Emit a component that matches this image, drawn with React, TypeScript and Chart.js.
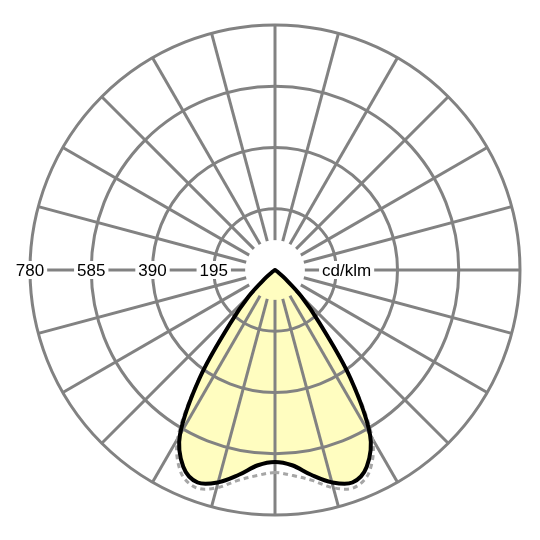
import React, { useRef, useEffect } from "react";
import { Chart, registerables } from "chart.js";

Chart.register(...registerables);

// gamma angle from nadir, degrees
const gammaAngles = [0, 5, 10, 15, 20, 25, 30, 35, 40, 45, 50, 55, 60, 65, 70, 75, 80, 85, 90];
// C0-C180 plane (solid), cd/klm
const c0c180 = [611, 624, 662, 700, 720, 691, 605, 415, 222, 118, 38, 10, 0, 0, 0, 0, 0, 0, 0];
// C90-C270 plane (dashed), cd/klm
const c90c270 = [645, 657, 680, 718, 737, 710, 620, 420, 222, 118, 38, 10, 0, 0, 0, 0, 0, 0, 0];

const ringValues = [195, 390, 585, 780];
const ringLabels = ["195", "390", "585", "780"];
const unitLabel = "cd/klm";
const unitValue = 228;
const holeValue = 95;
const spokeStep = 15;

const gridColor = "#828282";
const fillColor = "#fffdc0";

const directions = Array.from({ length: 72 }, (_, i) => i * 5);

const toRadar = (values: number[]) =>
  directions.map((d) => {
    const g = d <= 180 ? d : 360 - d;
    const k = gammaAngles.indexOf(g);
    return k >= 0 ? values[k] : 0;
  });

const polarGrid = {
  id: "polarGrid",
  afterDatasetDraw(chart: any, args: any) {
    if (args.index !== 2) return;
    const scale = chart.scales.r;
    const ctx = chart.ctx as CanvasRenderingContext2D;
    const cx = scale.xCenter;
    const cy = scale.yCenter;
    const hole = scale.getDistanceFromCenterForValue(holeValue);
    const outer = scale.getDistanceFromCenterForValue(scale.max);
    ctx.save();
    ctx.strokeStyle = gridColor;
    ctx.lineWidth = 3;
    ringValues.forEach((v) => {
      ctx.beginPath();
      ctx.arc(cx, cy, scale.getDistanceFromCenterForValue(v), 0, Math.PI * 2);
      ctx.stroke();
    });
    for (let a = 0; a < 360; a += spokeStep) {
      const t = (a * Math.PI) / 180;
      ctx.beginPath();
      ctx.moveTo(cx + hole * Math.sin(t), cy - hole * Math.cos(t));
      ctx.lineTo(cx + outer * Math.sin(t), cy - outer * Math.cos(t));
      ctx.stroke();
    }
    ctx.font = "17px 'Liberation Sans', Arial, sans-serif";
    ctx.textAlign = "center";
    ctx.textBaseline = "middle";
    const label = (text: string, x: number) => {
      const w = ctx.measureText(text).width;
      ctx.fillStyle = "#ffffff";
      ctx.fillRect(x - w / 2 - 3, cy - 9, w + 6, 18);
      ctx.fillStyle = "#000000";
      ctx.fillText(text, x, cy + 1);
    };
    ringValues.forEach((v, i) =>
      label(ringLabels[i], cx - scale.getDistanceFromCenterForValue(v))
    );
    label(unitLabel, cx + scale.getDistanceFromCenterForValue(unitValue));
    ctx.restore();
  },
};

const PolarChart: React.FC = () => {
  const canvasRef = useRef<HTMLCanvasElement>(null);

  useEffect(() => {
    if (!canvasRef.current) return;
    const ctx = canvasRef.current.getContext("2d");
    if (!ctx) return;

    const solid = toRadar(c0c180);
    const dashed = toRadar(c90c270);

    const chart = new Chart(ctx, {
      type: "radar",
      data: {
        labels: directions.map(String),
        datasets: [
          {
            data: solid,
            borderColor: "#000000",
            borderWidth: 4,
            fill: false,
            tension: 0.35,
            pointRadius: 0,
            borderJoinStyle: "round",
          },
          {
            data: dashed,
            borderColor: "#a6a6a6",
            borderWidth: 3,
            borderDash: [5, 4],
            fill: false,
            tension: 0.35,
            pointRadius: 0,
          },
          {
            data: solid,
            borderWidth: 0,
            borderColor: "rgba(0,0,0,0)",
            backgroundColor: fillColor,
            fill: true,
            tension: 0.35,
            pointRadius: 0,
          },
        ],
      },
      options: {
        animation: false,
        responsive: true,
        maintainAspectRatio: false,
        events: [],
        layout: { padding: { left: 30, right: 20, top: 25, bottom: 25 } },
        plugins: { legend: { display: false }, tooltip: { enabled: false } },
        scales: {
          r: {
            min: 0,
            max: 780,
            startAngle: 180,
            grid: { display: false },
            angleLines: { display: false },
            ticks: { display: false },
            pointLabels: { display: false },
          },
        },
      },
      plugins: [polarGrid],
    } as any);

    return () => {
      chart.destroy();
    };
  }, []);

  return <canvas ref={canvasRef}></canvas>;
};

export default function App() {
  return (
    <div
      style={{
        position: "absolute",
        left: 0,
        top: 0,
        width: 540,
        height: 540,
        background: "#ffffff",
      }}
    >
      <PolarChart />
    </div>
  );
}
